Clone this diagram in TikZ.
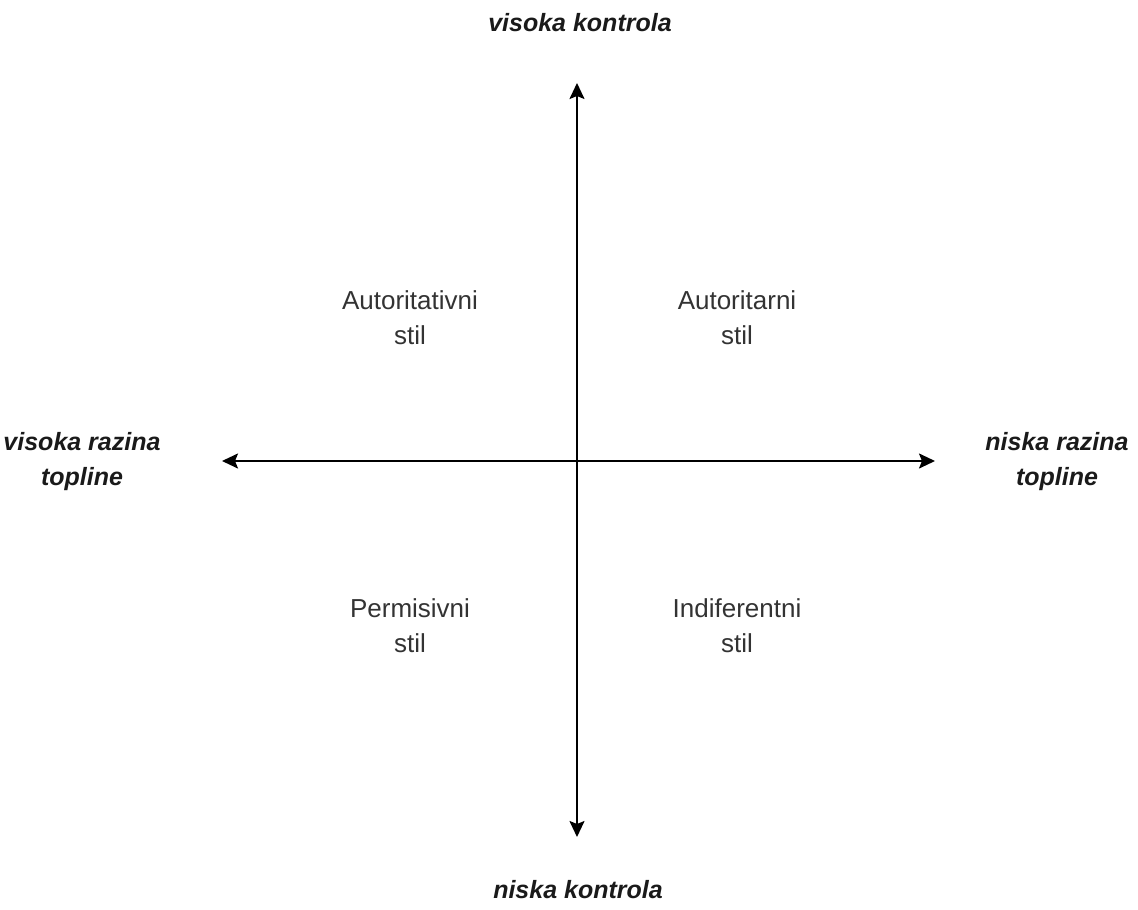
\documentclass[tikz,border=0pt]{standalone}
\usepackage{fontspec}
\setmainfont{Liberation Sans}
\usetikzlibrary{arrows.meta}
\definecolor{axtext}{HTML}{1A1A1A}
\definecolor{qtext}{HTML}{333333}
\tikzset{
  axisline/.style={line width=2pt, black, {Stealth[length=16pt,width=15pt,inset=3pt]}-{Stealth[length=16pt,width=15pt,inset=3pt]}},
  axislabel/.style={font=\fontsize{25}{35}\selectfont\bfseries\itshape, text=axtext, align=center, anchor=base, inner sep=0pt},
  quadlabel/.style={font=\fontsize{26}{35}\selectfont, text=qtext, align=center, anchor=base, inner sep=0pt}
}
\begin{document}
\begin{tikzpicture}[x=1pt,y=-1pt]
  \useasboundingbox (0,0) rectangle (1138,910);
  \coordinate (top) at (577,83);
  \coordinate (bottom) at (577,837);
  \coordinate (left) at (222,461);
  \coordinate (right) at (935,461);
  \draw[axisline] (top) -- (bottom);
  \draw[axisline] (left) -- (right);
  \node[axislabel] (hc) at (580,31) {visoka kontrola};
  \node[axislabel] (lc) at (578,898) {niska kontrola};
  \node[axislabel] (hw) at (82,485) {visoka razina\\topline};
  \node[axislabel] (lw) at (1057,485) {niska razina\\topline};
  \node[quadlabel] (q1) at (410,344) {Autoritativni\\stil};
  \node[quadlabel] (q2) at (737,344) {Autoritarni\\stil};
  \node[quadlabel] (q3) at (410,652) {Permisivni\\stil};
  \node[quadlabel] (q4) at (737,652) {Indiferentni\\stil};
\end{tikzpicture}
\end{document}
